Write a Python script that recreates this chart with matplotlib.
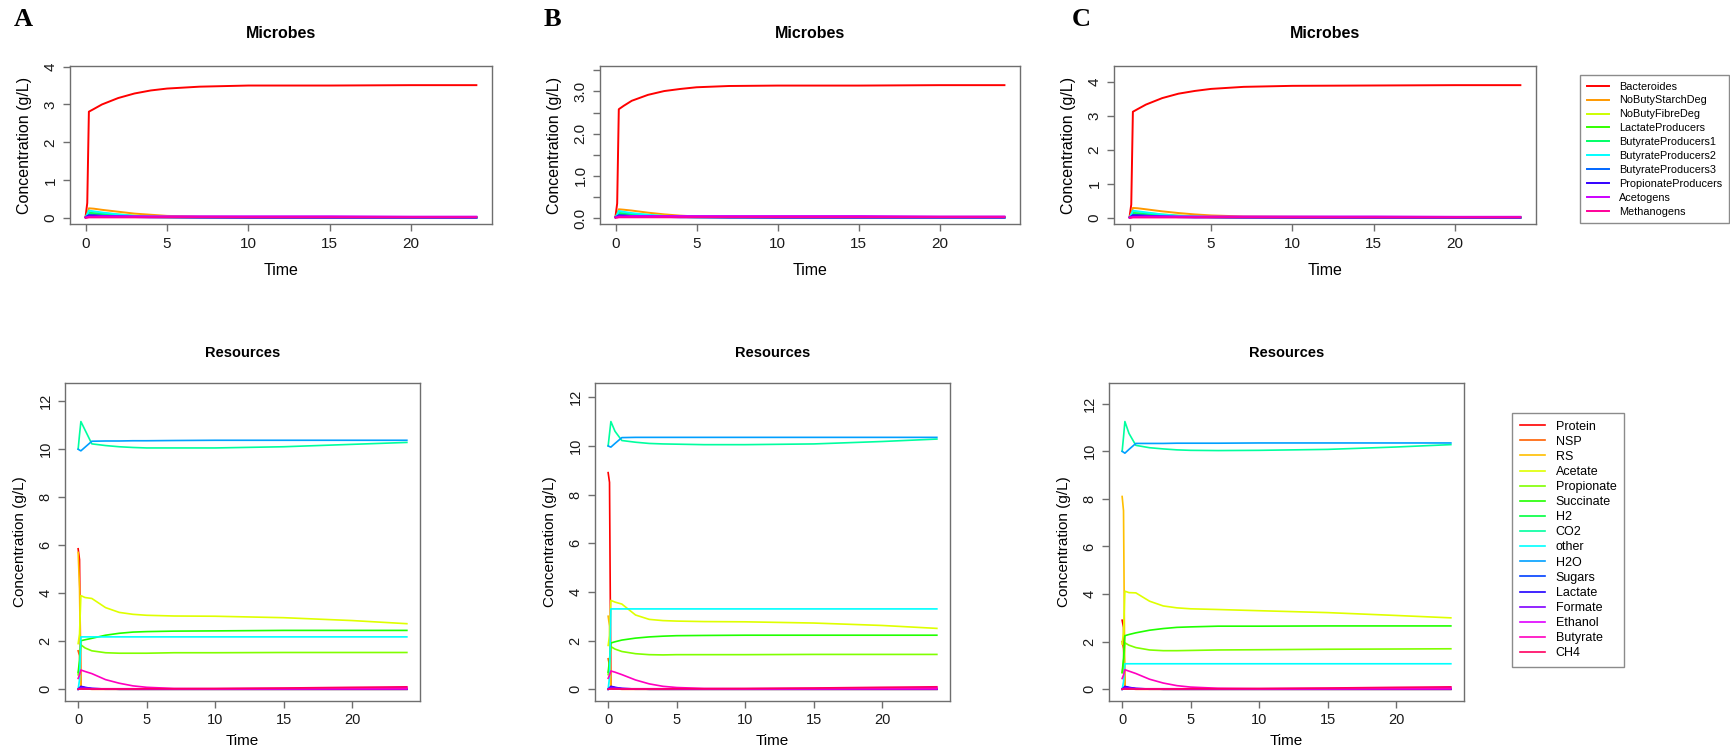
import numpy as np
import matplotlib
matplotlib.use("Agg")
import matplotlib.pyplot as plt

plt.rcParams['font.family'] = ['Liberation Sans', 'DejaVu Sans']

# sampled time points (h)
time = [0, 0.1, 0.2, 0.5, 1, 2, 3, 4, 5, 7, 10, 15, 20, 24]

microbe_names = ["Bacteroides", "NoButyStarchDeg", "NoButyFibreDeg", "LactateProducers",
                 "ButyrateProducers1", "ButyrateProducers2", "ButyrateProducers3",
                 "PropionateProducers", "Acetogens", "Methanogens"]
resource_names = ["Protein", "NSP", "RS", "Acetate", "Propionate", "Succinate", "H2", "CO2",
                  "other", "H2O", "Sugars", "Lactate", "Formate", "Ethanol", "Butyrate", "CH4"]

# ---- microbes, panel A ----
bact_a = [0.05, 0.4, 2.81, 2.88, 3.0, 3.17, 3.29, 3.37, 3.42, 3.47, 3.5, 3.5, 3.51, 3.51]
starch_a = [0.03, 0.12, 0.26, 0.25, 0.22, 0.17, 0.12, 0.09, 0.06, 0.04, 0.03, 0.03, 0.03, 0.03]
fibre_a = [0.02, 0.08, 0.16, 0.15, 0.13, 0.10, 0.07, 0.05, 0.04, 0.03, 0.02, 0.02, 0.02, 0.02]
lact_a = [0.02, 0.06, 0.12, 0.11, 0.09, 0.07, 0.05, 0.04, 0.03, 0.02, 0.02, 0.02, 0.02, 0.02]
bp1_a = [0.02, 0.07, 0.14, 0.13, 0.11, 0.08, 0.05, 0.03, 0.02, 0.02, 0.01, 0.01, 0.01, 0.01]
bp2_a = [0.02, 0.10, 0.20, 0.18, 0.15, 0.10, 0.06, 0.04, 0.03, 0.02, 0.02, 0.01, 0.01, 0.01]
bp3_a = [0.02, 0.05, 0.08, 0.07, 0.06, 0.04, 0.03, 0.02, 0.02, 0.01, 0.01, 0.01, 0.01, 0.01]
prop_a = [0.02, 0.05, 0.07, 0.07, 0.06, 0.05, 0.04, 0.03, 0.03, 0.03, 0.02, 0.02, 0.02, 0.02]
aceto_a = [0.02, 0.03, 0.04, 0.04, 0.05, 0.05, 0.05, 0.05, 0.05, 0.05, 0.05, 0.05, 0.04, 0.04]
metha_a = [0.01, 0.01, 0.02, 0.02, 0.02, 0.02, 0.02, 0.02, 0.02, 0.02, 0.02, 0.02, 0.02, 0.02]

# ---- microbes, panel B ----
bact_b = [0.05, 0.35, 2.58, 2.66, 2.78, 2.92, 3.01, 3.06, 3.10, 3.13, 3.14, 3.14, 3.15, 3.15]
starch_b = [0.03, 0.10, 0.21, 0.20, 0.18, 0.13, 0.09, 0.06, 0.04, 0.03, 0.03, 0.03, 0.03, 0.03]
fibre_b = [0.02, 0.07, 0.13, 0.12, 0.10, 0.08, 0.06, 0.04, 0.03, 0.03, 0.02, 0.02, 0.02, 0.02]
lact_b = [0.02, 0.05, 0.10, 0.09, 0.08, 0.06, 0.04, 0.03, 0.03, 0.02, 0.02, 0.02, 0.02, 0.02]
bp1_b = [0.02, 0.06, 0.12, 0.11, 0.09, 0.06, 0.04, 0.03, 0.02, 0.02, 0.01, 0.01, 0.01, 0.01]
bp2_b = [0.02, 0.08, 0.17, 0.15, 0.12, 0.08, 0.05, 0.03, 0.02, 0.02, 0.01, 0.01, 0.01, 0.01]
bp3_b = [0.02, 0.04, 0.07, 0.06, 0.05, 0.04, 0.03, 0.02, 0.02, 0.01, 0.01, 0.01, 0.01, 0.01]
prop_b = [0.02, 0.04, 0.06, 0.06, 0.05, 0.05, 0.04, 0.03, 0.03, 0.03, 0.02, 0.02, 0.02, 0.02]
aceto_b = [0.02, 0.03, 0.04, 0.04, 0.05, 0.05, 0.05, 0.05, 0.05, 0.05, 0.05, 0.05, 0.04, 0.04]
metha_b = [0.01, 0.01, 0.02, 0.02, 0.02, 0.02, 0.02, 0.02, 0.02, 0.02, 0.02, 0.02, 0.02, 0.02]

# ---- microbes, panel C ----
bact_c = [0.05, 0.4, 3.12, 3.20, 3.33, 3.52, 3.65, 3.73, 3.79, 3.85, 3.88, 3.89, 3.90, 3.90]
starch_c = [0.03, 0.14, 0.30, 0.29, 0.26, 0.20, 0.15, 0.11, 0.08, 0.05, 0.04, 0.03, 0.03, 0.03]
fibre_c = [0.02, 0.09, 0.18, 0.17, 0.15, 0.11, 0.08, 0.06, 0.04, 0.03, 0.02, 0.02, 0.02, 0.02]
lact_c = [0.02, 0.07, 0.13, 0.12, 0.10, 0.08, 0.06, 0.04, 0.03, 0.02, 0.02, 0.02, 0.02, 0.02]
bp1_c = [0.02, 0.08, 0.15, 0.14, 0.12, 0.09, 0.06, 0.04, 0.03, 0.02, 0.01, 0.01, 0.01, 0.01]
bp2_c = [0.02, 0.11, 0.22, 0.20, 0.17, 0.11, 0.07, 0.05, 0.03, 0.02, 0.02, 0.01, 0.01, 0.01]
bp3_c = [0.02, 0.05, 0.09, 0.08, 0.07, 0.05, 0.03, 0.02, 0.02, 0.01, 0.01, 0.01, 0.01, 0.01]
prop_c = [0.02, 0.05, 0.08, 0.08, 0.07, 0.05, 0.04, 0.03, 0.03, 0.03, 0.02, 0.02, 0.02, 0.02]
aceto_c = [0.02, 0.03, 0.04, 0.04, 0.05, 0.05, 0.05, 0.05, 0.05, 0.05, 0.05, 0.05, 0.04, 0.04]
metha_c = [0.01, 0.01, 0.02, 0.02, 0.02, 0.02, 0.02, 0.02, 0.02, 0.02, 0.02, 0.02, 0.02, 0.02]

# ---- small resource pools, about the same in every run ----
h2_low = [0, 0.02, 0.03, 0.02, 0.01, 0.01, 0, 0, 0, 0, 0, 0, 0, 0]
sugars_low = [0, 0.05, 0.10, 0.06, 0.02, 0, 0, 0, 0, 0, 0, 0, 0, 0]
lactate_low = [0, 0.05, 0.12, 0.08, 0.03, 0.01, 0, 0, 0, 0, 0, 0, 0, 0]
formate_low = [0, 0.04, 0.08, 0.06, 0.03, 0.01, 0, 0, 0, 0, 0, 0, 0, 0]
ethanol_low = [0, 0.01, 0.02, 0.02, 0.02, 0.02, 0.02, 0.02, 0.02, 0.02, 0.02, 0.03, 0.05, 0.06]
ch4_low = [0, 0.01, 0.01, 0.01, 0.01, 0.01, 0.01, 0.01, 0.02, 0.02, 0.03, 0.05, 0.08, 0.10]

# ---- resources, panel A ----
protein_a = [5.85, 5.4, 0.05, 0.01, 0, 0, 0, 0, 0, 0, 0, 0, 0, 0]
nsp_a = [1.6, 1.4, 0.05, 0.01, 0, 0, 0, 0, 0, 0, 0, 0, 0, 0]
rs_a = [5.7, 4.2, 0.05, 0.01, 0, 0, 0, 0, 0, 0, 0, 0, 0, 0]
acetate_a = [1.9, 2.3, 3.9, 3.82, 3.78, 3.4, 3.2, 3.12, 3.08, 3.05, 3.04, 2.98, 2.86, 2.73]
propionate_a = [0.6, 1.0, 1.85, 1.72, 1.6, 1.52, 1.5, 1.5, 1.5, 1.52, 1.52, 1.53, 1.53, 1.53]
succinate_a = [0.7, 1.2, 2.02, 2.06, 2.12, 2.25, 2.33, 2.38, 2.4, 2.42, 2.43, 2.45, 2.45, 2.45]
co2_a = [10.0, 10.6, 11.15, 10.8, 10.22, 10.15, 10.1, 10.07, 10.05, 10.05, 10.05, 10.1, 10.2, 10.28]
other_a = [0, 0.4, 2.18, 2.18, 2.18, 2.18, 2.18, 2.18, 2.18, 2.18, 2.18, 2.18, 2.18, 2.18]
h2o_a = [10.0, 9.96, 9.93, 10.08, 10.33, 10.34, 10.34, 10.35, 10.35, 10.36, 10.37, 10.37, 10.37, 10.37]
butyrate_a = [0.45, 0.6, 0.8, 0.74, 0.65, 0.4, 0.25, 0.14, 0.08, 0.03, 0.02, 0.02, 0.02, 0.02]

# ---- resources, panel B ----
protein_b = [8.9, 8.5, 0.05, 0.01, 0, 0, 0, 0, 0, 0, 0, 0, 0, 0]
nsp_b = [1.25, 1.0, 0.05, 0.01, 0, 0, 0, 0, 0, 0, 0, 0, 0, 0]
rs_b = [3.0, 2.6, 0.05, 0.01, 0, 0, 0, 0, 0, 0, 0, 0, 0, 0]
acetate_b = [1.8, 2.2, 3.65, 3.58, 3.5, 3.05, 2.87, 2.82, 2.8, 2.78, 2.77, 2.72, 2.62, 2.5]
propionate_b = [0.6, 1.0, 1.75, 1.65, 1.55, 1.46, 1.42, 1.41, 1.42, 1.42, 1.42, 1.43, 1.43, 1.43]
succinate_b = [0.7, 1.2, 1.9, 1.95, 2.02, 2.1, 2.15, 2.18, 2.2, 2.21, 2.22, 2.22, 2.22, 2.22]
co2_b = [10.0, 10.5, 11.0, 10.6, 10.22, 10.15, 10.1, 10.08, 10.07, 10.05, 10.05, 10.08, 10.18, 10.28]
other_b = [0, 0.5, 3.3, 3.3, 3.3, 3.3, 3.3, 3.3, 3.3, 3.3, 3.3, 3.3, 3.3, 3.3]
h2o_b = [10.0, 9.97, 9.95, 10.1, 10.34, 10.35, 10.35, 10.35, 10.35, 10.35, 10.35, 10.35, 10.35, 10.35]
butyrate_b = [0.45, 0.58, 0.75, 0.7, 0.6, 0.38, 0.22, 0.12, 0.07, 0.03, 0.02, 0.02, 0.02, 0.02]

# ---- resources, panel C ----
protein_c = [2.9, 2.6, 0.05, 0.01, 0, 0, 0, 0, 0, 0, 0, 0, 0, 0]
nsp_c = [2.0, 1.7, 0.05, 0.01, 0, 0, 0, 0, 0, 0, 0, 0, 0, 0]
rs_c = [8.1, 7.5, 0.05, 0.01, 0, 0, 0, 0, 0, 0, 0, 0, 0, 0]
acetate_c = [1.9, 2.4, 4.12, 4.06, 4.05, 3.7, 3.5, 3.42, 3.38, 3.35, 3.3, 3.22, 3.1, 3.0]
propionate_c = [0.7, 1.1, 1.95, 1.85, 1.75, 1.65, 1.62, 1.62, 1.63, 1.65, 1.66, 1.68, 1.69, 1.7]
succinate_c = [0.7, 1.3, 2.25, 2.3, 2.37, 2.48, 2.55, 2.6, 2.62, 2.65, 2.65, 2.66, 2.66, 2.66]
co2_c = [10.0, 10.6, 11.25, 10.75, 10.25, 10.15, 10.1, 10.06, 10.04, 10.03, 10.04, 10.08, 10.18, 10.28]
other_c = [0, 0.3, 1.07, 1.07, 1.07, 1.07, 1.07, 1.07, 1.07, 1.07, 1.07, 1.07, 1.07, 1.07]
h2o_c = [10.0, 9.96, 9.92, 10.08, 10.33, 10.33, 10.33, 10.34, 10.34, 10.34, 10.35, 10.35, 10.35, 10.35]
butyrate_c = [0.45, 0.6, 0.82, 0.76, 0.66, 0.42, 0.26, 0.15, 0.09, 0.04, 0.02, 0.02, 0.02, 0.02]

microbes = {
    "A": [bact_a, starch_a, fibre_a, lact_a, bp1_a, bp2_a, bp3_a, prop_a, aceto_a, metha_a],
    "B": [bact_b, starch_b, fibre_b, lact_b, bp1_b, bp2_b, bp3_b, prop_b, aceto_b, metha_b],
    "C": [bact_c, starch_c, fibre_c, lact_c, bp1_c, bp2_c, bp3_c, prop_c, aceto_c, metha_c],
}
resources = {
    "A": [protein_a, nsp_a, rs_a, acetate_a, propionate_a, succinate_a, h2_low, co2_a, other_a,
          h2o_a, sugars_low, lactate_low, formate_low, ethanol_low, butyrate_a, ch4_low],
    "B": [protein_b, nsp_b, rs_b, acetate_b, propionate_b, succinate_b, h2_low, co2_b, other_b,
          h2o_b, sugars_low, lactate_low, formate_low, ethanol_low, butyrate_b, ch4_low],
    "C": [protein_c, nsp_c, rs_c, acetate_c, propionate_c, succinate_c, h2_low, co2_c, other_c,
          h2o_c, sugars_low, lactate_low, formate_low, ethanol_low, butyrate_c, ch4_low],
}

# R's rainbow() palettes
microbe_cols = ["#FF0000", "#FF9900", "#CCFF00", "#33FF00", "#00FF66",
                "#00FFFF", "#0066FF", "#3300FF", "#CC00FF", "#FF0099"]
resource_cols = ["#FF0000", "#FF6000", "#FFBF00", "#DFFF00", "#80FF00", "#20FF00", "#00FF40", "#00FF9F",
                 "#00FFFF", "#009FFF", "#0040FF", "#2000FF", "#8000FF", "#DF00FF", "#FF00BF", "#FF0060"]

W, H = 1730, 754
fig = plt.figure(figsize=(W / 100, H / 100), dpi=100)

FRAME = "#6e6e6e"
TXT = "#1a1a1a"


def px_axes(x0, y0, x1, y1):
    return fig.add_axes([x0 / W, 1 - y1 / H, (x1 - x0) / W, (y1 - y0) / H])


def r_style(ax, fs):
    for s in ax.spines.values():
        s.set_color(FRAME)
        s.set_linewidth(1.0)
    ax.tick_params(colors=FRAME, labelcolor=TXT, labelsize=fs, length=5, width=1.0, pad=4)
    for lbl in ax.get_yticklabels():
        lbl.set_rotation(90)
        lbl.set_va("center")
    ax.set_xticks([0, 5, 10, 15, 20])
    ax.set_xlim(-0.96, 24.96)


def r_ylim(ax, top):
    ax.set_ylim(-0.04 * top, top * 1.04)


top_boxes = {"A": (70, 492), "B": (600, 1020), "C": (1114, 1536)}
bot_boxes = {"A": (65, 420), "B": (595, 950), "C": (1109, 1464)}
letter_x = {"A": 14, "B": 544, "C": 1072}

mic_lines = []
res_lines = []
for key in ["A", "B", "C"]:
    # microbes
    x0, x1 = top_boxes[key]
    ax = px_axes(x0, 66, x1, 224)
    lines = []
    for ser, col in zip(microbes[key], microbe_cols):
        ln, = ax.plot(time, ser, color=col, lw=1.4)
        lines.append(ln)
    mic_lines = lines
    top = 1.1 * max(max(s) for s in microbes[key])
    r_ylim(ax, top)
    if key == "B":
        ax.set_yticks(np.arange(0, 3.6, 0.5))
        ax.set_yticklabels(["0.0", "", "1.0", "", "2.0", "", "3.0", ""])
    else:
        ax.set_yticks([0, 1, 2, 3, 4])
    r_style(ax, 11)
    ax.set_title("Microbes", fontsize=11.5, fontweight="bold", pad=20)
    ax.set_xlabel("Time", fontsize=11.5, labelpad=9)
    ax.set_ylabel("Concentration (g/L)", fontsize=11.5, labelpad=8)
    fig.text(letter_x[key] / W, 1 - 8 / H, key, fontsize=19, fontweight="bold",
             family="Liberation Serif", va="top", ha="left")

    # resources
    x0, x1 = bot_boxes[key]
    ax = px_axes(x0, 383, x1, 701)
    lines = []
    for ser, col in zip(resources[key], resource_cols):
        ln, = ax.plot(time, ser, color=col, lw=1.2)
        lines.append(ln)
    res_lines = lines
    top = 1.1 * max(max(s) for s in resources[key])
    r_ylim(ax, top)
    ax.set_yticks([0, 2, 4, 6, 8, 10, 12])
    r_style(ax, 10.5)
    ax.set_title("Resources", fontsize=10.5, fontweight="bold", pad=19)
    ax.set_xlabel("Time", fontsize=11, labelpad=5)
    ax.set_ylabel("Concentration (g/L)", fontsize=11, labelpad=8)

leg1 = fig.legend(mic_lines, microbe_names, loc="upper left",
                  bbox_to_anchor=(1580 / W, 1 - 75 / H), fontsize=7.8, frameon=True,
                  fancybox=False, edgecolor=FRAME, labelspacing=0.36, handlelength=2.1,
                  handletextpad=0.9, borderpad=0.6, borderaxespad=0)
leg1.get_frame().set_linewidth(1.0)
leg2 = fig.legend(res_lines, resource_names, loc="upper left",
                  bbox_to_anchor=(1512 / W, 1 - 413 / H), fontsize=9, frameon=True,
                  fancybox=False, edgecolor=FRAME, labelspacing=0.25, handlelength=2.0,
                  handletextpad=0.9, borderpad=0.6, borderaxespad=0)
leg2.get_frame().set_linewidth(1.0)

fig.savefig("out.png", dpi=100)
